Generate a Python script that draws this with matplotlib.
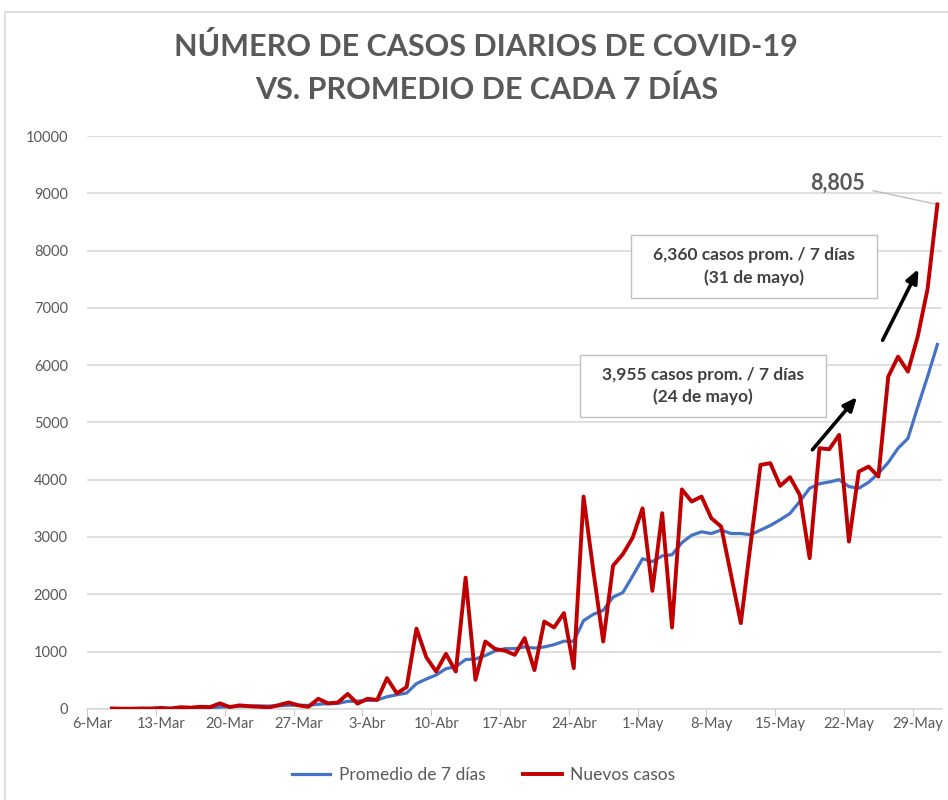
"""
Casos diarios de COVID-19 vs. promedio de cada 7 dias (6-Mar a 31-May)
"""
import matplotlib.pyplot as plt
from matplotlib.patches import Rectangle

plt.rcParams['font.family'] = ['Lato', 'DejaVu Sans']

# categorias: un punto por dia del 6-Mar al 31-May
n_dias = 87
etiquetas = ['6-Mar', '13-Mar', '20-Mar', '27-Mar', '3-Abr', '10-Abr', '17-Abr',
             '24-Abr', '1-May', '8-May', '15-May', '22-May', '29-May']

# nuevos casos por dia, los dos primeros dias sin dato
nuevos_casos = [None, None, 6, 2, 2, 6, 5, 15, 5, 28,
                20, 35, 30, 95, 30, 60, 45, 35, 25, 65,
                110, 60, 35, 175, 95, 110, 260, 90, 175, 155,
                535, 270, 380, 1400, 900, 650, 960, 650, 2290, 506,
                1175, 1045, 1015, 942, 1234, 675, 1524, 1420, 1670, 710,
                3705, 2400, 1175, 2500, 2700, 2990, 3500, 2060, 3415, 1420,
                3830, 3618, 3705, 3328, 3181, 2340, 1495, 2880, 4258, 4288,
                3892, 4043, 3735, 2630, 4549, 4532, 4782, 2920, 4141, 4229,
                4054, 5800, 6148, 5887, 6500, 7330, 8805]

# promedio de 7 dias
promedio_7 = [None, None, None, None, None, None, None, None, 6, 10,
              11, 16, 19, 31, 34, 46, 48, 51, 48, 52,
              62, 61, 60, 80, 88, 95, 130, 135, 145, 155,
              210, 245, 275, 440, 520, 590, 700, 735, 860, 870,
              930, 1010, 1050, 1050, 1080, 1060, 1080, 1120, 1180, 1180,
              1540, 1650, 1720, 1950, 2030, 2320, 2620, 2570, 2670, 2690,
              2900, 3030, 3090, 3060, 3120, 3060, 3060, 3040, 3120, 3200,
              3300, 3410, 3620, 3850, 3930, 3960, 4000, 3880, 3850, 3955,
              4110, 4300, 4550, 4720, 5270, 5800, 6360]

gris = '#595959'

fig = plt.figure(figsize=(9.48, 8), dpi=100)
fig.patches.append(Rectangle((0.005, -0.01), 1.0, 0.995, transform=fig.transFigure,
                             fill=False, edgecolor='#d9d9d9', linewidth=1.2))

ax = fig.add_axes([0.092, 0.114, 0.902, 0.716])
x = list(range(n_dias))
y_rojo = [float('nan') if v is None else v for v in nuevos_casos]
y_azul = [float('nan') if v is None else v for v in promedio_7]

ax.plot(x, y_azul, color='#4472C4', linewidth=2.3, label='Promedio de 7 días', zorder=3)
ax.plot(x, y_rojo, color='#C00000', linewidth=2.8, label='Nuevos casos', zorder=4)

ax.set_xlim(-0.5, n_dias - 0.5)
ax.set_ylim(0, 10000)
ax.set_yticks(range(0, 10001, 1000))
ax.set_yticklabels([str(v) for v in range(0, 10001, 1000)], color=gris, fontsize=10.5)
ax.set_xticks(range(0, n_dias, 7))
ax.set_xticklabels(etiquetas, color=gris, fontsize=10.5)
ax.set_xticks([i - 0.5 for i in range(0, n_dias, 7)], minor=True)
ax.tick_params(axis='x', which='major', length=0, pad=6)
ax.tick_params(axis='x', which='minor', length=5, color='#bfbfbf')
ax.tick_params(axis='y', length=0, pad=14)
ax.grid(axis='y', color='#d9d9d9', linewidth=1.2)
ax.set_axisbelow(True)
for s in ['top', 'right', 'left']:
    ax.spines[s].set_visible(False)
ax.spines['bottom'].set_color('#d9d9d9')
ax.spines['bottom'].set_linewidth(1.2)

fig.text(0.513, 0.942, 'NÚMERO DE CASOS DIARIOS DE COVID-19', ha='center', va='center',
         fontsize=22, fontweight='bold', color=gris)
fig.text(0.513, 0.888, 'VS. PROMEDIO DE CADA 7 DÍAS', ha='center', va='center',
         fontsize=22, fontweight='bold', color=gris)

# etiqueta del ultimo valor
ax.annotate('8,805', xy=(86, nuevos_casos[-1]), xytext=(78.6, 9180),
            ha='right', va='center', fontsize=15.5, fontweight='bold', color=gris,
            arrowprops=dict(arrowstyle='-', color='#bfbfbf', linewidth=1,
                            shrinkA=4, shrinkB=0))

# cuadros de texto (x en dias, y en casos)
cuadros = [((54.8, 7170), 25.1, 1110, '6,360 casos prom. / 7 días\n(31 de mayo)'),
           ((49.6, 5090), 25.1, 1090, '3,955 casos prom. / 7 días\n(24 de mayo)')]
for (x0, y0), w, h, txt in cuadros:
    ax.add_patch(Rectangle((x0, y0), w, h, facecolor='white', edgecolor='#bfbfbf',
                           linewidth=1, zorder=6))
    ax.text(x0 + w / 2, y0 + h / 2, txt, ha='center', va='center', fontsize=12.5,
            fontweight='bold', color='#404040', linespacing=1.45, zorder=7)

flecha = dict(arrowstyle='-|>,head_length=0.8,head_width=0.35', color='black', linewidth=2.6)
ax.annotate('', xy=(78.0, 5480), xytext=(73.1, 4485), arrowprops=flecha, zorder=7)
ax.annotate('', xy=(84.2, 7720), xytext=(80.3, 6390), arrowprops=flecha, zorder=7)

leg = fig.legend(loc='center', bbox_to_anchor=(0.51, 0.031), ncol=2, frameon=False,
                 fontsize=12.5, handlelength=2.2, handletextpad=0.5, columnspacing=2.2)
for t in leg.get_texts():
    t.set_color(gris)

fig.savefig('out.png', dpi=100)
